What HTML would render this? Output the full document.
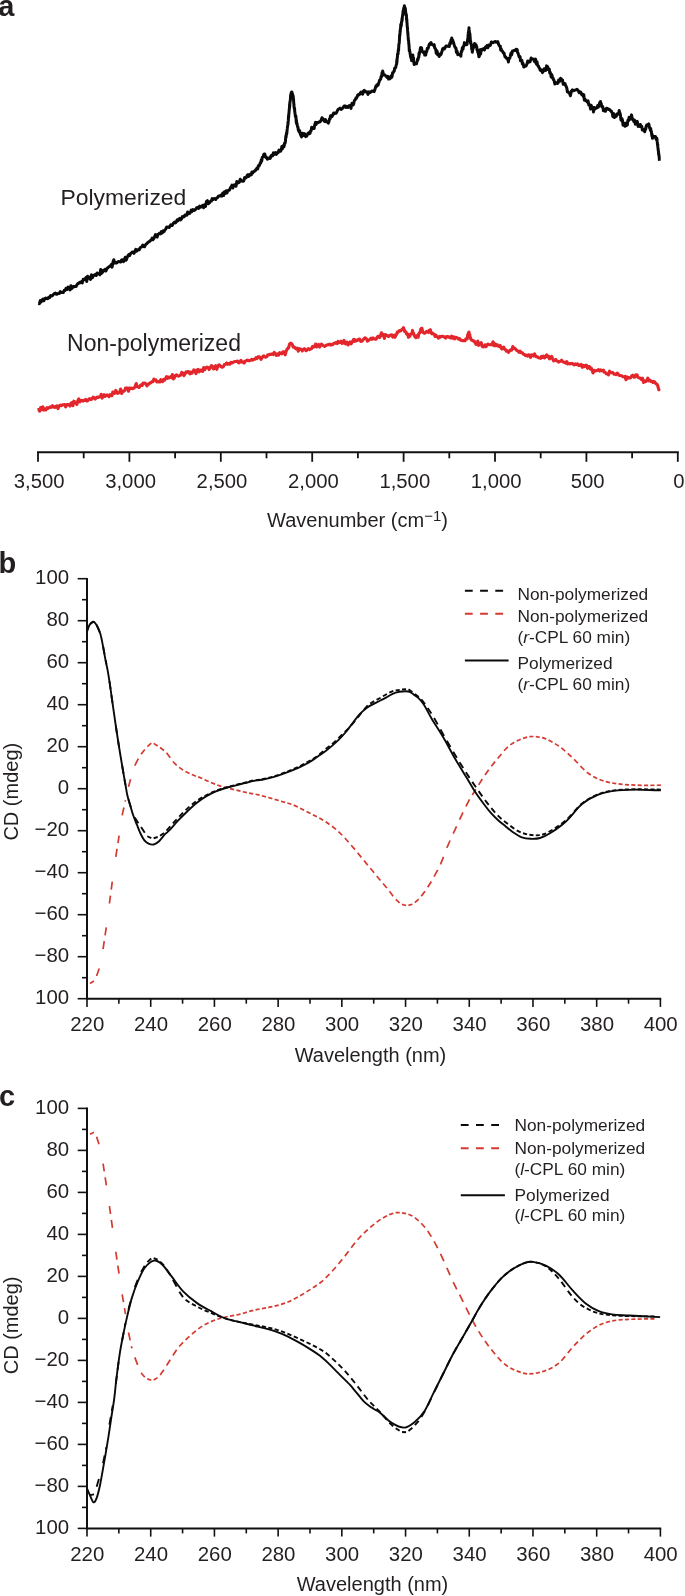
<!DOCTYPE html><html><head><meta charset="utf-8"><style>html,body{margin:0;padding:0;background:#fff;}body{width:685px;height:1596px;overflow:hidden;font-family:"Liberation Sans",sans-serif;}svg{display:block;will-change:transform;}</style></head><body><svg width="685" height="1596" viewBox="0 0 685 1596">
<rect width="100%" height="100%" fill="#ffffff"/>
<g font-family="&quot;Liberation Sans&quot;, sans-serif" fill="#231f20">
<text x="-1.80" y="15.70" font-size="29.00" text-anchor="start" font-weight="bold" >a</text>
<text x="-1.50" y="573.40" font-size="29.00" text-anchor="start" font-weight="bold" >b</text>
<text x="-0.90" y="1105.60" font-size="29.00" text-anchor="start" font-weight="bold" >c</text>
<path d="M37.00,452.30 H678.80" stroke="#111" stroke-width="2" fill="none"/>
<path d="M38.00,452.30 V461.80" stroke="#111" stroke-width="1.8" fill="none"/>
<text x="39.20" y="488.20" font-size="20.30" text-anchor="middle" font-weight="normal" >3,500</text>
<path d="M83.70,452.30 V458.30" stroke="#111" stroke-width="1.8" fill="none"/>
<path d="M129.40,452.30 V461.80" stroke="#111" stroke-width="1.8" fill="none"/>
<text x="130.60" y="488.20" font-size="20.30" text-anchor="middle" font-weight="normal" >3,000</text>
<path d="M175.10,452.30 V458.30" stroke="#111" stroke-width="1.8" fill="none"/>
<path d="M220.80,452.30 V461.80" stroke="#111" stroke-width="1.8" fill="none"/>
<text x="222.00" y="488.20" font-size="20.30" text-anchor="middle" font-weight="normal" >2,500</text>
<path d="M266.50,452.30 V458.30" stroke="#111" stroke-width="1.8" fill="none"/>
<path d="M312.20,452.30 V461.80" stroke="#111" stroke-width="1.8" fill="none"/>
<text x="313.40" y="488.20" font-size="20.30" text-anchor="middle" font-weight="normal" >2,000</text>
<path d="M357.90,452.30 V458.30" stroke="#111" stroke-width="1.8" fill="none"/>
<path d="M403.60,452.30 V461.80" stroke="#111" stroke-width="1.8" fill="none"/>
<text x="404.80" y="488.20" font-size="20.30" text-anchor="middle" font-weight="normal" >1,500</text>
<path d="M449.30,452.30 V458.30" stroke="#111" stroke-width="1.8" fill="none"/>
<path d="M495.00,452.30 V461.80" stroke="#111" stroke-width="1.8" fill="none"/>
<text x="496.20" y="488.20" font-size="20.30" text-anchor="middle" font-weight="normal" >1,000</text>
<path d="M540.70,452.30 V458.30" stroke="#111" stroke-width="1.8" fill="none"/>
<path d="M586.40,452.30 V461.80" stroke="#111" stroke-width="1.8" fill="none"/>
<text x="587.60" y="488.20" font-size="20.30" text-anchor="middle" font-weight="normal" >500</text>
<path d="M632.10,452.30 V458.30" stroke="#111" stroke-width="1.8" fill="none"/>
<path d="M677.80,452.30 V461.80" stroke="#111" stroke-width="1.8" fill="none"/>
<text x="679.00" y="488.20" font-size="20.30" text-anchor="middle" font-weight="normal" >0</text>
<text x="357.50" y="526.50" font-size="20.00" text-anchor="middle" font-weight="normal" >Wavenumber (cm<tspan font-size="15" dy="-6">−1</tspan><tspan dy="6">)</tspan></text>
<text x="60.40" y="204.50" font-size="22.90" text-anchor="start" font-weight="normal" >Polymerized</text>
<text x="67.10" y="350.90" font-size="23.00" text-anchor="start" font-weight="normal" >Non-polymerized</text>
<path d="M38.50,303.20 L39.38,303.74 L40.27,300.61 L41.15,301.99 L42.03,299.88 L42.92,299.15 L43.80,300.79 L44.77,298.58 L45.73,298.08 L46.70,298.64 L47.67,298.78 L48.63,297.22 L49.60,297.61 L50.57,295.61 L51.53,295.99 L52.50,295.62 L53.48,294.25 L54.46,293.66 L55.43,293.14 L56.41,294.28 L57.39,293.97 L58.37,293.41 L59.34,293.45 L60.32,291.52 L61.30,292.51 L62.27,292.43 L63.23,292.56 L64.20,290.37 L65.17,290.43 L66.13,288.22 L67.10,289.45 L68.07,287.15 L69.03,287.57 L70.00,289.91 L70.88,285.79 L71.76,288.60 L72.64,287.59 L73.52,286.40 L74.40,286.76 L75.28,286.34 L76.16,286.42 L77.04,284.53 L77.92,283.64 L78.80,283.13 L79.68,282.22 L80.56,282.77 L81.44,281.47 L82.32,283.02 L83.20,279.29 L84.08,279.66 L84.96,279.32 L85.84,277.58 L86.72,281.48 L87.60,276.25 L88.57,278.12 L89.53,277.39 L90.50,279.32 L91.47,274.85 L92.43,277.75 L93.40,275.30 L94.37,275.46 L95.33,274.43 L96.30,275.40 L97.18,272.96 L98.06,273.63 L98.94,273.62 L99.82,274.76 L100.70,269.60 L101.58,273.44 L102.46,272.31 L103.34,270.25 L104.22,270.63 L105.10,269.29 L105.97,271.00 L106.84,268.81 L107.71,267.73 L108.58,267.11 L109.45,266.53 L110.32,265.95 L111.19,264.56 L112.06,267.18 L112.93,262.21 L113.80,259.73 L114.78,263.16 L115.76,262.74 L116.73,262.91 L117.71,261.88 L118.69,261.54 L119.67,261.67 L120.64,261.97 L121.62,260.01 L122.60,259.69 L123.48,261.62 L124.36,259.46 L125.24,257.19 L126.12,260.22 L127.00,257.90 L127.88,255.79 L128.76,254.54 L129.64,255.55 L130.52,253.69 L131.40,252.84 L132.27,251.96 L133.14,252.22 L134.01,253.39 L134.88,251.08 L135.75,249.36 L136.62,251.08 L137.49,249.80 L138.36,250.05 L139.23,249.83 L140.10,247.71 L140.98,247.21 L141.86,246.79 L142.74,245.06 L143.62,246.52 L144.50,246.76 L145.38,244.91 L146.26,243.93 L147.14,243.37 L148.02,242.27 L148.90,241.72 L149.72,241.48 L150.55,240.32 L151.38,240.09 L152.20,238.16 L153.03,239.61 L153.85,238.60 L154.68,236.61 L155.50,234.67 L156.33,236.52 L157.15,237.06 L157.98,234.37 L158.80,233.97 L159.67,233.22 L160.54,233.92 L161.41,231.54 L162.28,232.98 L163.15,230.92 L164.02,231.62 L164.89,229.99 L165.76,229.05 L166.63,227.02 L167.50,227.24 L168.30,227.10 L169.10,227.51 L169.90,226.44 L170.70,224.80 L171.50,225.41 L172.30,225.43 L173.10,223.57 L173.90,222.64 L174.70,222.09 L175.50,222.80 L176.30,221.89 L177.17,219.72 L178.04,220.59 L178.91,219.09 L179.78,218.23 L180.65,219.86 L181.52,218.84 L182.39,216.58 L183.26,216.91 L184.13,216.81 L185.00,215.00 L185.88,214.99 L186.76,215.27 L187.64,211.99 L188.52,213.74 L189.40,213.61 L190.28,212.77 L191.16,210.16 L192.04,211.41 L192.92,209.53 L193.80,210.53 L194.78,210.09 L195.76,209.18 L196.73,207.62 L197.71,207.34 L198.69,208.45 L199.67,206.04 L200.64,207.10 L201.62,206.64 L202.60,205.29 L203.57,207.75 L204.53,204.70 L205.50,206.49 L206.47,201.43 L207.43,200.69 L208.40,203.75 L209.37,202.88 L210.33,201.35 L211.30,201.14 L212.18,198.58 L213.06,199.45 L213.94,198.47 L214.82,198.84 L215.70,199.52 L216.58,198.08 L217.46,197.90 L218.34,196.19 L219.22,195.95 L220.10,196.02 L220.97,194.98 L221.84,196.07 L222.71,193.11 L223.58,195.54 L224.45,191.77 L225.32,193.41 L226.19,190.78 L227.06,192.83 L227.93,190.56 L228.80,190.24 L229.60,189.98 L230.40,187.83 L231.20,186.74 L232.00,185.03 L232.80,187.96 L233.60,185.22 L234.40,184.69 L235.20,184.68 L236.00,186.26 L236.80,181.54 L237.60,183.07 L238.48,181.83 L239.36,182.33 L240.24,179.23 L241.12,180.24 L242.00,181.07 L242.88,181.33 L243.76,180.85 L244.64,177.62 L245.52,178.09 L246.40,177.38 L247.19,175.35 L247.98,174.64 L248.77,176.42 L249.56,175.22 L250.35,174.16 L251.15,175.02 L251.94,171.94 L252.73,172.99 L253.52,171.78 L254.31,171.07 L255.10,171.04 L255.74,169.79 L256.38,168.99 L257.02,168.09 L257.66,169.03 L258.30,165.66 L258.97,166.18 L259.63,164.80 L260.30,162.82 L260.77,162.93 L261.25,159.96 L261.73,161.03 L262.20,157.71 L262.54,157.00 L262.88,156.84 L263.22,156.34 L263.56,155.36 L263.90,154.28 L264.36,153.99 L264.82,154.09 L265.28,156.66 L265.74,157.31 L266.20,156.85 L267.30,159.20 L268.40,158.59 L269.50,157.55 L270.28,158.29 L271.06,155.54 L271.84,155.23 L272.62,155.84 L273.40,152.89 L274.38,154.32 L275.35,152.46 L276.32,154.44 L277.30,152.50 L278.10,152.72 L278.90,150.09 L279.70,150.58 L280.50,151.22 L281.30,149.90 L281.85,146.49 L282.40,148.65 L282.95,147.73 L283.50,145.45 L284.05,146.54 L284.60,142.93 L284.81,142.98 L285.02,143.28 L285.23,142.47 L285.44,141.42 L285.66,137.79 L285.87,136.01 L286.08,137.37 L286.29,134.35 L286.50,134.76 L286.63,132.44 L286.76,133.97 L286.89,132.63 L287.02,131.31 L287.15,129.67 L287.28,128.65 L287.41,127.22 L287.54,126.92 L287.67,125.72 L287.80,124.91 L287.91,122.88 L288.01,124.40 L288.12,121.57 L288.23,121.75 L288.33,120.63 L288.44,117.15 L288.55,115.22 L288.65,117.41 L288.76,114.55 L288.87,114.02 L288.97,112.60 L289.08,111.98 L289.19,109.48 L289.29,109.63 L289.40,108.19 L289.50,107.67 L289.60,104.10 L289.70,106.56 L289.80,105.00 L289.90,101.72 L290.00,101.80 L290.10,101.63 L290.20,101.27 L290.30,99.56 L290.40,100.07 L290.50,97.56 L290.60,95.42 L290.70,94.76 L290.98,95.17 L291.25,92.53 L291.52,92.98 L291.80,92.02 L292.02,92.53 L292.23,93.99 L292.45,93.66 L292.67,94.82 L292.88,95.17 L293.10,96.13 L293.22,96.16 L293.34,98.35 L293.45,98.87 L293.57,99.56 L293.69,102.37 L293.81,103.79 L293.93,104.00 L294.05,106.96 L294.16,107.57 L294.28,108.77 L294.40,108.04 L294.55,108.07 L294.71,111.33 L294.86,112.06 L295.02,113.53 L295.17,114.20 L295.32,116.13 L295.48,115.44 L295.63,117.50 L295.78,116.78 L295.94,116.24 L296.09,119.30 L296.25,122.44 L296.40,119.96 L296.65,123.91 L296.90,123.03 L297.15,124.32 L297.40,125.80 L297.65,126.97 L297.90,126.65 L298.15,128.85 L298.40,130.19 L299.04,131.54 L299.68,130.71 L300.32,134.17 L300.96,135.48 L301.60,136.96 L302.60,133.30 L303.60,135.44 L304.60,133.68 L305.60,136.62 L306.70,136.18 L307.80,133.67 L308.90,132.56 L309.46,133.66 L310.01,133.31 L310.57,130.90 L311.13,130.64 L311.69,127.31 L312.24,128.46 L312.80,128.56 L313.47,127.68 L314.13,128.37 L314.80,124.49 L315.47,122.39 L316.13,124.48 L316.80,122.45 L317.58,122.76 L318.36,122.57 L319.14,121.78 L319.92,122.05 L320.70,121.29 L322.00,117.77 L323.30,119.33 L324.60,121.40 L325.43,119.55 L326.25,121.86 L327.07,121.54 L327.90,121.94 L328.42,123.10 L328.94,121.47 L329.46,119.01 L329.98,119.24 L330.50,115.76 L331.27,115.64 L332.03,116.66 L332.80,114.94 L333.57,112.96 L334.33,113.86 L335.10,112.96 L335.92,113.31 L336.73,112.25 L337.55,110.20 L338.37,109.27 L339.18,108.95 L340.00,108.15 L340.98,109.36 L341.95,108.85 L342.92,107.94 L343.90,106.22 L344.90,105.86 L345.90,107.44 L346.90,106.39 L347.90,107.36 L349.20,105.57 L350.50,107.23 L351.02,108.36 L351.54,104.73 L352.06,103.30 L352.58,103.84 L353.10,104.93 L353.67,103.85 L354.24,101.02 L354.81,100.05 L355.39,99.61 L355.96,97.86 L356.53,98.08 L357.10,96.87 L357.88,94.80 L358.66,95.00 L359.44,94.58 L360.22,93.13 L361.00,92.07 L361.82,93.65 L362.65,94.09 L363.48,91.03 L364.30,90.23 L365.17,91.89 L366.03,91.71 L366.90,91.74 L368.00,94.36 L369.10,91.92 L370.20,92.50 L371.00,91.91 L371.80,91.01 L372.60,91.06 L373.40,91.29 L374.20,91.59 L374.76,89.89 L375.31,88.35 L375.87,86.10 L376.43,86.56 L376.99,84.75 L377.54,84.84 L378.10,85.18 L378.62,83.26 L379.14,81.75 L379.66,80.09 L380.18,79.84 L380.70,78.92 L381.03,76.70 L381.37,76.08 L381.70,76.52 L382.03,72.64 L382.37,72.90 L382.70,71.02 L383.57,74.87 L384.43,74.70 L385.30,75.47 L385.96,76.12 L386.62,76.78 L387.28,77.56 L387.94,76.28 L388.60,79.08 L389.90,78.80 L391.20,75.93 L391.65,77.42 L392.10,76.27 L392.55,72.88 L393.00,73.05 L393.45,72.25 L393.90,71.02 L394.27,71.00 L394.64,68.14 L395.01,68.27 L395.39,67.73 L395.76,67.25 L396.13,65.48 L396.50,64.13 L396.64,64.12 L396.79,60.14 L396.93,62.32 L397.07,59.92 L397.21,57.85 L397.36,57.71 L397.50,55.13 L397.64,53.87 L397.79,54.72 L397.93,53.19 L398.07,53.81 L398.21,51.00 L398.36,49.51 L398.50,48.85 L398.59,50.79 L398.68,47.93 L398.77,46.23 L398.86,44.81 L398.95,43.69 L399.04,43.72 L399.13,43.37 L399.22,43.17 L399.31,42.16 L399.40,40.20 L399.50,38.17 L399.59,36.95 L399.68,34.36 L399.77,34.78 L399.86,35.36 L399.95,33.53 L400.04,33.30 L400.13,30.42 L400.22,31.89 L400.31,30.22 L400.40,28.95 L400.57,28.35 L400.75,24.46 L400.93,25.32 L401.10,23.96 L401.27,25.96 L401.45,22.77 L401.62,21.43 L401.80,21.94 L401.97,18.79 L402.15,20.47 L402.32,17.09 L402.49,16.75 L402.67,14.76 L402.84,15.61 L403.01,11.28 L403.19,13.39 L403.36,10.68 L403.53,10.59 L403.71,8.22 L403.88,8.69 L404.05,7.60 L404.23,7.00 L404.40,5.65 L404.60,7.04 L404.80,8.49 L405.00,8.02 L405.20,8.20 L405.40,9.14 L405.60,12.35 L405.80,12.24 L406.00,14.86 L406.20,14.80 L406.40,14.69 L406.49,17.84 L406.57,20.03 L406.66,18.74 L406.75,18.95 L406.83,20.10 L406.92,23.06 L407.01,22.48 L407.09,23.73 L407.18,25.97 L407.27,26.28 L407.35,27.44 L407.44,27.76 L407.53,28.70 L407.61,30.63 L407.70,31.67 L407.79,33.19 L407.89,33.02 L407.98,34.99 L408.07,36.17 L408.16,36.77 L408.26,38.34 L408.35,39.86 L408.44,40.00 L408.54,40.91 L408.63,40.79 L408.72,43.25 L408.81,43.83 L408.91,44.62 L409.00,45.09 L409.14,47.65 L409.29,50.86 L409.43,49.54 L409.58,50.18 L409.72,51.59 L409.87,51.48 L410.01,53.26 L410.16,53.45 L410.30,54.49 L410.56,56.50 L410.82,57.53 L411.08,58.20 L411.34,58.49 L411.60,60.69 L411.78,58.02 L411.96,58.89 L412.14,56.48 L412.32,55.68 L412.50,55.36 L412.67,56.10 L412.84,55.06 L413.01,57.20 L413.18,58.86 L413.35,58.25 L413.52,57.79 L413.69,61.35 L413.86,62.37 L414.03,63.88 L414.20,64.49 L415.20,63.89 L416.20,63.36 L416.57,63.67 L416.94,61.75 L417.31,60.87 L417.69,58.90 L418.06,59.62 L418.43,57.24 L418.80,57.31 L419.00,53.19 L419.20,54.79 L419.40,53.42 L419.60,52.03 L419.80,52.97 L420.00,51.01 L420.20,49.41 L420.40,48.00 L420.60,49.65 L420.80,47.42 L421.20,48.38 L421.60,47.88 L422.00,51.21 L422.40,51.45 L422.80,51.60 L423.45,52.61 L424.10,51.76 L424.75,55.09 L425.40,54.00 L425.71,55.17 L426.03,52.80 L426.34,51.65 L426.66,51.78 L426.97,50.65 L427.29,48.22 L427.60,48.42 L428.15,48.28 L428.70,46.46 L429.25,44.37 L429.80,44.70 L430.35,43.03 L430.90,42.57 L431.72,44.08 L432.55,44.79 L433.38,45.45 L434.20,44.69 L434.61,47.80 L435.02,48.11 L435.44,48.79 L435.85,50.32 L436.26,53.17 L436.68,50.56 L437.09,51.13 L437.50,54.64 L438.37,53.57 L439.23,56.49 L440.10,54.62 L440.47,54.24 L440.84,54.76 L441.21,53.91 L441.59,52.47 L441.96,51.56 L442.33,49.99 L442.70,48.72 L443.52,48.15 L444.35,48.94 L445.18,47.50 L446.00,45.92 L447.10,46.01 L448.20,46.34 L449.30,46.50 L449.63,43.97 L449.97,42.95 L450.30,42.31 L450.63,43.72 L450.97,40.05 L451.30,40.09 L451.77,38.05 L452.24,41.68 L452.71,40.25 L453.19,41.63 L453.66,43.15 L454.13,44.72 L454.60,46.10 L455.06,47.23 L455.51,48.00 L455.97,48.21 L456.43,52.45 L456.89,50.97 L457.34,52.20 L457.80,54.61 L458.70,54.36 L459.60,54.83 L460.50,55.45 L460.85,56.12 L461.21,51.88 L461.56,51.00 L461.92,51.19 L462.27,47.79 L462.63,48.14 L462.98,49.20 L463.34,46.45 L463.69,46.12 L464.05,45.67 L464.40,42.63 L465.70,44.85 L467.00,44.51 L467.12,43.00 L467.24,42.89 L467.35,42.12 L467.47,40.74 L467.59,39.45 L467.71,40.21 L467.82,39.42 L467.94,37.76 L468.06,36.04 L468.18,33.99 L468.29,33.24 L468.41,31.92 L468.53,32.35 L468.65,32.11 L468.76,31.11 L468.88,29.08 L469.00,27.68 L469.12,29.38 L469.24,30.40 L469.35,31.99 L469.47,34.03 L469.59,32.76 L469.71,36.87 L469.83,33.38 L469.95,34.81 L470.06,36.19 L470.18,37.80 L470.30,39.75 L470.50,43.23 L470.70,41.20 L470.90,44.14 L471.10,43.53 L471.30,45.07 L471.50,44.77 L471.70,49.33 L471.90,47.80 L472.10,48.15 L472.30,52.28 L472.77,49.05 L473.24,48.37 L473.71,46.81 L474.19,45.12 L474.66,43.53 L475.13,43.95 L475.60,44.96 L475.88,44.70 L476.15,45.09 L476.43,47.48 L476.70,46.35 L476.98,49.91 L477.25,49.43 L477.52,49.59 L477.80,52.27 L478.07,53.14 L478.35,53.24 L478.62,54.89 L478.90,56.77 L479.33,56.25 L479.77,52.81 L480.20,49.88 L480.63,54.00 L481.07,50.50 L481.50,49.35 L482.48,49.94 L483.45,48.68 L484.42,49.96 L485.40,47.14 L486.20,47.50 L487.00,45.57 L487.80,47.82 L488.60,45.11 L489.40,45.80 L490.38,45.44 L491.35,41.95 L492.32,42.33 L493.30,42.68 L494.30,41.80 L495.30,41.45 L496.30,42.37 L497.30,42.30 L497.79,41.64 L498.27,43.13 L498.76,44.97 L499.25,45.48 L499.74,46.39 L500.23,46.00 L500.71,50.13 L501.20,48.95 L501.76,50.42 L502.31,51.02 L502.87,52.06 L503.43,53.08 L503.99,52.93 L504.54,55.18 L505.10,57.01 L505.76,57.00 L506.42,58.21 L507.08,58.81 L507.74,59.17 L508.40,61.98 L508.87,58.26 L509.34,58.42 L509.81,58.12 L510.29,56.32 L510.76,53.85 L511.23,52.82 L511.70,54.71 L512.43,50.92 L513.17,50.94 L513.90,50.49 L515.00,50.63 L516.10,49.23 L517.20,49.73 L517.61,52.67 L518.03,52.93 L518.44,54.48 L518.85,55.85 L519.26,56.92 L519.67,56.27 L520.09,56.88 L520.50,60.73 L520.97,59.96 L521.44,60.31 L521.91,60.35 L522.39,64.06 L522.86,63.04 L523.33,64.22 L523.80,66.98 L524.90,66.20 L526.00,66.05 L527.10,63.62 L527.68,61.04 L528.25,62.27 L528.83,62.20 L529.40,60.98 L529.98,61.85 L530.55,60.44 L531.12,58.08 L531.70,59.02 L532.68,58.89 L533.65,59.17 L534.62,61.58 L535.60,59.17 L536.07,63.16 L536.54,64.25 L537.01,61.84 L537.49,64.91 L537.96,65.96 L538.43,65.93 L538.90,67.57 L539.55,68.31 L540.20,70.27 L540.85,70.59 L541.50,69.86 L542.40,72.64 L543.30,71.45 L544.20,68.69 L545.00,69.88 L545.80,70.47 L546.60,65.87 L547.40,66.45 L547.87,67.27 L548.34,69.40 L548.81,69.40 L549.29,69.14 L549.76,73.00 L550.23,72.20 L550.70,74.30 L551.17,76.95 L551.64,74.57 L552.11,75.88 L552.59,78.27 L553.06,78.10 L553.53,79.73 L554.00,80.10 L554.83,84.01 L555.65,82.45 L556.47,82.95 L557.30,83.54 L557.95,83.06 L558.60,80.08 L559.25,80.80 L559.90,81.15 L560.55,78.25 L561.20,78.85 L561.86,79.62 L562.52,80.08 L563.18,84.31 L563.84,83.27 L564.50,83.77 L564.97,83.46 L565.44,85.35 L565.91,85.86 L566.39,87.02 L566.86,88.29 L567.33,91.73 L567.80,91.37 L568.67,92.68 L569.53,93.21 L570.40,95.71 L571.40,91.20 L572.40,89.84 L573.40,90.81 L574.40,90.19 L575.70,89.94 L577.00,89.22 L578.30,90.66 L579.12,92.63 L579.95,91.80 L580.77,92.13 L581.60,94.52 L582.15,93.85 L582.70,94.78 L583.25,96.50 L583.80,94.63 L584.35,100.19 L584.90,98.99 L585.68,100.47 L586.46,101.05 L587.24,101.95 L588.02,100.83 L588.80,105.05 L589.39,104.59 L589.97,105.13 L590.56,109.12 L591.15,105.11 L591.74,108.17 L592.33,108.10 L592.91,107.40 L593.50,112.04 L594.38,107.59 L595.25,108.86 L596.12,108.01 L597.00,107.71 L597.70,105.53 L598.40,107.13 L599.10,104.96 L599.80,102.34 L600.50,101.47 L600.86,104.06 L601.23,103.43 L601.59,106.13 L601.95,106.97 L602.31,106.91 L602.67,106.38 L603.04,108.02 L603.40,110.80 L604.42,109.26 L605.45,111.30 L606.48,108.20 L607.50,108.53 L608.38,109.43 L609.25,109.36 L610.12,110.17 L611.00,111.52 L611.44,111.20 L611.88,112.68 L612.31,112.86 L612.75,116.41 L613.19,115.34 L613.62,117.03 L614.06,113.78 L614.50,117.47 L615.30,116.00 L616.10,116.52 L616.90,115.22 L617.36,113.61 L617.82,113.52 L618.28,113.78 L618.74,113.12 L619.20,110.42 L619.49,113.20 L619.78,112.38 L620.06,114.76 L620.35,114.16 L620.64,117.28 L620.92,119.71 L621.21,117.86 L621.50,120.55 L622.00,118.61 L622.50,120.51 L623.00,125.14 L623.50,123.13 L624.00,124.76 L624.50,123.41 L625.00,126.19 L625.58,124.38 L626.17,125.60 L626.75,122.72 L627.33,125.15 L627.92,120.17 L628.50,120.77 L629.10,117.38 L629.70,118.32 L630.30,119.28 L630.90,117.01 L631.50,114.88 L632.08,117.89 L632.66,119.43 L633.24,119.91 L633.82,121.56 L634.40,119.94 L635.34,124.21 L636.28,123.69 L637.22,121.29 L638.16,126.37 L639.10,124.49 L639.75,126.38 L640.40,124.45 L641.05,126.75 L641.70,126.24 L642.35,129.99 L643.00,129.62 L643.65,129.68 L644.30,131.09 L644.76,131.83 L645.21,128.82 L645.67,129.40 L646.12,126.56 L646.58,125.12 L647.03,125.50 L647.49,124.81 L647.94,124.41 L648.40,124.34 L648.73,123.93 L649.06,125.07 L649.39,127.40 L649.71,128.12 L650.04,128.67 L650.37,130.08 L650.70,128.49 L651.00,131.37 L651.30,131.28 L651.60,133.71 L651.90,136.16 L652.20,134.39 L652.50,138.31 L653.95,136.38 L655.40,136.47 L655.76,137.13 L656.12,139.36 L656.48,138.79 L656.84,138.18 L657.20,141.76 L657.32,142.25 L657.44,144.13 L657.56,145.11 L657.68,144.13 L657.81,146.70 L657.93,147.63 L658.05,148.43 L658.17,149.63 L658.29,150.89 L658.41,150.95 L658.53,152.41 L658.65,154.67 L658.77,153.44 L658.89,155.53 L659.02,155.52 L659.14,156.48 L659.26,158.21 L659.38,159.88 L659.50,160.70" stroke="#0a0a0a" stroke-width="3.0" fill="none" stroke-linejoin="round"/>
<path d="M37.60,409.90 L38.63,409.55 L39.67,411.17 L40.70,407.53 L41.73,409.51 L42.77,406.80 L43.80,410.11 L44.89,408.90 L45.97,409.94 L47.06,407.67 L48.15,408.44 L49.24,407.46 L50.33,406.74 L51.41,407.48 L52.50,405.72 L53.60,406.52 L54.70,407.49 L55.80,406.60 L56.90,405.90 L58.00,408.57 L59.10,406.04 L60.20,405.14 L61.30,405.78 L62.39,404.80 L63.47,404.73 L64.56,404.54 L65.65,406.93 L66.74,404.50 L67.83,404.44 L68.91,404.77 L70.00,406.02 L70.98,403.30 L71.96,402.60 L72.93,405.76 L73.91,401.17 L74.89,402.12 L75.87,403.00 L76.84,404.52 L77.82,400.71 L78.80,398.83 L79.78,401.99 L80.76,400.46 L81.73,400.37 L82.71,401.07 L83.69,400.58 L84.67,400.42 L85.64,399.39 L86.62,401.05 L87.60,401.06 L88.69,399.22 L89.77,398.48 L90.86,399.57 L91.95,399.08 L93.04,397.19 L94.12,397.62 L95.21,399.07 L96.30,397.59 L97.28,397.08 L98.26,397.42 L99.23,396.90 L100.21,396.68 L101.19,394.30 L102.17,398.09 L103.14,396.13 L104.12,394.69 L105.10,396.48 L106.07,395.45 L107.03,394.84 L108.00,395.69 L108.97,396.73 L109.93,394.56 L110.90,395.41 L111.87,395.75 L112.83,391.97 L113.80,392.22 L114.78,393.42 L115.76,390.45 L116.73,391.81 L117.71,393.29 L118.69,392.78 L119.67,392.04 L120.64,389.08 L121.62,393.52 L122.60,391.31 L123.58,391.29 L124.56,390.73 L125.53,388.05 L126.51,388.10 L127.49,388.08 L128.47,391.28 L129.44,388.00 L130.42,388.39 L131.40,388.12 L132.37,388.74 L133.33,388.37 L134.30,387.83 L135.27,385.86 L136.23,383.50 L137.20,386.85 L138.17,386.67 L139.13,387.44 L140.10,385.69 L141.09,384.81 L142.08,385.61 L143.07,383.13 L144.06,383.37 L145.05,383.09 L146.04,384.20 L147.03,385.86 L148.02,384.08 L149.01,384.18 L150.00,382.86 L150.98,382.68 L151.96,381.66 L152.93,381.62 L153.91,379.04 L154.89,380.17 L155.87,379.85 L156.84,381.97 L157.82,381.55 L158.80,381.86 L159.77,382.05 L160.73,379.73 L161.70,380.96 L162.67,381.68 L163.63,379.26 L164.60,380.20 L165.57,378.55 L166.53,376.69 L167.50,378.33 L168.48,377.04 L169.46,377.81 L170.43,376.92 L171.41,377.53 L172.39,374.57 L173.37,378.96 L174.34,377.91 L175.32,375.77 L176.30,374.90 L177.39,375.64 L178.48,376.12 L179.56,375.58 L180.65,375.29 L181.74,372.42 L182.82,373.08 L183.91,375.54 L185.00,374.06 L185.98,371.87 L186.96,372.33 L187.93,371.44 L188.91,371.65 L189.89,373.82 L190.87,372.02 L191.84,373.26 L192.82,371.96 L193.80,369.83 L194.90,370.57 L196.00,373.63 L197.10,370.01 L198.20,369.48 L199.30,371.82 L200.40,370.33 L201.50,370.01 L202.60,371.44 L203.69,367.57 L204.78,369.74 L205.86,367.83 L206.95,367.18 L208.04,367.58 L209.12,369.52 L210.21,367.80 L211.30,365.64 L212.40,366.23 L213.50,368.96 L214.60,368.17 L215.70,365.57 L216.80,369.30 L217.90,365.94 L219.00,364.78 L220.10,365.75 L221.19,366.74 L222.28,367.29 L223.36,366.42 L224.45,364.57 L225.54,364.21 L226.62,362.99 L227.71,364.33 L228.80,363.53 L229.90,364.25 L231.00,362.33 L232.10,362.94 L233.20,362.31 L234.30,361.72 L235.40,361.52 L236.50,361.48 L237.60,361.07 L238.70,362.86 L239.80,362.16 L240.90,360.39 L242.00,362.28 L243.10,361.85 L244.20,362.99 L245.30,360.96 L246.40,360.76 L247.49,359.96 L248.57,360.61 L249.66,360.77 L250.75,360.15 L251.84,359.40 L252.93,360.06 L254.01,359.27 L255.10,359.18 L256.08,357.53 L257.06,358.49 L258.04,356.82 L259.02,356.67 L260.00,357.48 L260.98,359.38 L261.96,357.84 L262.93,356.44 L263.91,355.94 L264.89,356.97 L265.87,357.12 L266.84,356.65 L267.82,354.78 L268.80,354.91 L269.89,354.37 L270.98,354.45 L272.06,353.85 L273.15,354.57 L274.24,352.47 L275.32,353.58 L276.41,355.44 L277.50,353.96 L278.58,355.19 L279.67,352.71 L280.75,353.33 L281.83,353.78 L282.92,351.75 L284.00,351.70 L285.15,354.78 L286.30,350.73 L286.74,349.79 L287.18,349.03 L287.61,348.80 L288.05,347.82 L288.49,348.04 L288.93,346.92 L289.36,344.66 L289.80,343.80 L290.68,343.13 L291.55,343.57 L292.43,344.94 L293.30,347.12 L294.30,346.94 L295.30,348.20 L296.30,348.86 L297.30,348.11 L298.30,351.16 L299.30,348.71 L300.30,349.10 L301.30,349.26 L302.30,350.96 L303.30,349.47 L304.30,348.74 L305.30,350.00 L306.30,350.73 L307.30,349.27 L308.36,348.68 L309.42,349.74 L310.48,349.19 L311.54,348.70 L312.60,346.34 L313.60,347.13 L314.60,346.84 L315.60,344.02 L316.60,347.01 L317.60,345.38 L318.60,344.50 L319.60,347.05 L320.60,344.86 L321.60,344.09 L322.60,345.03 L323.60,345.93 L324.60,346.41 L325.60,345.64 L326.60,344.93 L327.60,344.92 L328.60,344.58 L329.60,344.12 L330.60,345.08 L331.60,344.35 L332.60,344.76 L333.60,343.57 L334.48,343.00 L335.35,343.24 L336.23,342.53 L337.10,343.69 L338.10,341.44 L339.10,342.75 L340.10,342.53 L341.10,341.16 L342.10,343.50 L343.10,342.93 L344.10,340.44 L345.10,343.55 L346.10,344.00 L347.10,342.12 L348.10,344.99 L349.10,343.33 L350.10,341.93 L351.10,343.93 L351.98,342.36 L352.87,340.73 L353.75,339.29 L354.63,341.44 L355.52,339.81 L356.40,340.82 L357.49,340.38 L358.57,339.22 L359.66,339.05 L360.75,341.48 L361.84,341.26 L362.93,340.04 L364.01,338.65 L365.10,337.80 L366.33,338.69 L367.55,341.22 L368.77,340.09 L370.00,339.48 L371.02,338.12 L372.03,339.39 L373.05,337.91 L374.07,338.61 L375.08,339.13 L376.10,339.20 L376.99,337.54 L377.87,336.39 L378.76,336.41 L379.64,337.56 L380.53,335.35 L381.41,332.75 L382.30,335.44 L383.34,334.42 L384.38,338.48 L385.42,334.49 L386.46,335.35 L387.50,335.57 L388.56,336.58 L389.62,335.77 L390.68,335.03 L391.74,334.79 L392.80,337.06 L393.54,335.87 L394.29,335.04 L395.03,337.30 L395.77,335.06 L396.51,334.64 L397.26,332.10 L398.00,332.24 L398.82,331.08 L399.63,330.50 L400.45,330.99 L401.27,330.24 L402.08,329.32 L402.90,328.57 L403.50,327.67 L404.10,329.33 L404.70,331.47 L405.30,331.51 L405.90,331.93 L406.55,334.07 L407.20,333.52 L407.85,334.67 L408.50,337.29 L409.20,335.02 L409.90,336.14 L410.60,334.24 L411.30,333.68 L412.00,333.16 L412.54,330.43 L413.08,333.69 L413.62,333.28 L414.16,335.14 L414.70,336.48 L415.87,337.59 L417.03,335.75 L418.20,337.23 L418.63,333.89 L419.06,333.48 L419.49,332.72 L419.91,332.74 L420.34,330.70 L420.77,329.14 L421.20,328.53 L421.98,328.31 L422.75,332.25 L423.52,332.66 L424.30,333.28 L425.32,332.76 L426.33,331.43 L427.35,331.30 L428.37,332.30 L429.38,330.17 L430.40,329.83 L431.17,333.16 L431.95,333.84 L432.73,333.13 L433.50,334.09 L434.27,334.41 L435.05,336.49 L435.83,335.11 L436.60,336.39 L437.60,336.97 L438.60,338.16 L439.60,336.41 L440.60,337.07 L441.60,336.40 L442.60,336.34 L443.60,336.47 L444.60,337.29 L445.60,338.19 L446.60,336.43 L447.60,336.53 L448.60,336.75 L449.60,337.59 L450.60,337.98 L451.60,336.06 L452.60,338.08 L453.60,336.82 L454.60,338.96 L455.60,337.35 L456.60,337.46 L457.60,338.11 L458.66,339.19 L459.72,338.52 L460.78,340.21 L461.84,340.50 L462.90,340.79 L463.97,340.55 L465.05,340.77 L466.12,338.54 L467.20,338.90 L467.46,337.87 L467.71,334.63 L467.97,336.33 L468.23,334.05 L468.49,333.11 L468.74,332.41 L469.00,332.01 L469.24,333.27 L469.49,334.43 L469.73,334.13 L469.97,336.67 L470.21,337.36 L470.46,337.47 L470.70,338.88 L471.59,340.29 L472.47,340.38 L473.36,341.17 L474.24,341.02 L475.13,342.66 L476.01,344.35 L476.90,342.90 L477.77,341.22 L478.63,345.47 L479.50,343.52 L480.37,343.21 L481.23,342.71 L482.10,346.37 L483.08,346.91 L484.06,346.60 L485.04,344.88 L486.02,346.69 L487.00,344.81 L488.00,344.12 L489.00,344.72 L490.00,344.75 L491.00,344.44 L492.00,344.70 L493.00,341.72 L494.00,345.73 L495.06,343.89 L496.12,345.76 L497.18,344.68 L498.24,346.26 L499.30,346.41 L500.18,345.41 L501.05,348.12 L501.93,348.95 L502.80,347.57 L503.68,347.04 L504.55,349.19 L505.43,349.52 L506.30,351.12 L507.39,350.77 L508.48,352.35 L509.56,351.08 L510.65,349.87 L511.74,350.12 L512.83,346.55 L513.91,348.52 L515.00,348.29 L516.00,349.68 L517.00,350.65 L518.00,351.04 L519.00,352.33 L520.00,351.04 L521.00,352.64 L522.00,352.66 L522.88,353.46 L523.75,354.45 L524.62,354.44 L525.50,355.63 L526.51,355.19 L527.53,356.18 L528.54,354.76 L529.56,355.05 L530.57,357.40 L531.59,355.06 L532.60,354.76 L533.60,355.81 L534.60,353.95 L535.60,356.27 L536.60,356.74 L537.60,356.83 L538.60,357.84 L539.60,358.06 L540.60,358.38 L541.60,356.24 L542.60,357.29 L543.60,356.09 L544.60,357.92 L545.60,356.58 L546.60,354.87 L547.60,356.92 L548.60,356.20 L549.60,358.88 L550.60,357.93 L551.60,356.40 L552.60,358.87 L553.60,360.92 L554.60,360.29 L555.60,359.36 L556.60,360.90 L557.60,360.95 L558.60,362.06 L559.60,361.56 L560.60,361.10 L561.60,360.21 L562.60,361.75 L563.60,362.15 L564.60,362.20 L565.60,363.02 L566.60,361.63 L567.60,363.93 L568.70,363.42 L569.80,363.92 L570.90,363.53 L572.00,363.42 L573.10,364.14 L574.20,364.83 L575.30,363.74 L576.40,364.56 L577.60,363.79 L578.80,365.52 L580.00,365.52 L581.10,364.36 L582.20,367.31 L583.30,365.33 L584.40,366.65 L585.50,365.40 L586.60,365.21 L587.53,368.38 L588.46,366.68 L589.39,366.50 L590.31,369.09 L591.24,368.19 L592.17,370.22 L593.10,373.00 L594.20,370.30 L595.30,370.86 L596.40,370.81 L597.50,370.20 L598.60,369.54 L599.70,371.05 L600.64,369.83 L601.59,370.82 L602.53,371.06 L603.47,370.06 L604.41,372.32 L605.36,372.55 L606.30,373.71 L607.38,373.82 L608.47,374.84 L609.55,371.13 L610.63,372.66 L611.72,372.82 L612.80,372.46 L613.90,374.22 L615.00,374.05 L616.10,374.65 L617.20,373.09 L618.30,374.19 L619.40,375.53 L620.50,375.50 L621.60,375.70 L622.70,376.62 L623.80,376.83 L624.90,376.36 L626.00,379.71 L627.10,376.90 L628.20,378.07 L629.30,377.75 L630.40,377.89 L631.50,375.94 L632.60,375.21 L633.68,377.09 L634.77,377.22 L635.85,374.68 L636.93,374.72 L638.02,377.29 L639.10,377.78 L640.20,378.24 L641.30,379.32 L642.40,378.15 L643.50,382.41 L644.60,380.85 L645.70,381.61 L646.76,380.64 L647.82,378.22 L648.88,380.88 L649.94,380.16 L651.00,381.38 L651.98,381.25 L652.95,382.58 L653.92,381.37 L654.90,382.40 L655.77,383.71 L656.63,383.78 L657.50,385.00 L658.17,387.27 L658.83,389.79 L659.50,388.80" stroke="#e3262b" stroke-width="3.1" fill="none" stroke-linejoin="round"/>
<path d="M87.00,577.90 V998.70 H661.20" stroke="#111" stroke-width="2" fill="none"/>
<path d="M87.00,578.70 H77.70" stroke="#111" stroke-width="1.6" fill="none"/>
<text x="69.10" y="584.40" font-size="20.40" text-anchor="end" font-weight="normal" >100</text>
<path d="M87.00,599.70 H82.00" stroke="#111" stroke-width="1.6" fill="none"/>
<path d="M87.00,620.70 H77.70" stroke="#111" stroke-width="1.6" fill="none"/>
<text x="69.10" y="626.40" font-size="20.40" text-anchor="end" font-weight="normal" >80</text>
<path d="M87.00,641.70 H82.00" stroke="#111" stroke-width="1.6" fill="none"/>
<path d="M87.00,662.70 H77.70" stroke="#111" stroke-width="1.6" fill="none"/>
<text x="69.10" y="668.40" font-size="20.40" text-anchor="end" font-weight="normal" >60</text>
<path d="M87.00,683.70 H82.00" stroke="#111" stroke-width="1.6" fill="none"/>
<path d="M87.00,704.70 H77.70" stroke="#111" stroke-width="1.6" fill="none"/>
<text x="69.10" y="710.40" font-size="20.40" text-anchor="end" font-weight="normal" >40</text>
<path d="M87.00,725.70 H82.00" stroke="#111" stroke-width="1.6" fill="none"/>
<path d="M87.00,746.70 H77.70" stroke="#111" stroke-width="1.6" fill="none"/>
<text x="69.10" y="752.40" font-size="20.40" text-anchor="end" font-weight="normal" >20</text>
<path d="M87.00,767.70 H82.00" stroke="#111" stroke-width="1.6" fill="none"/>
<path d="M87.00,788.70 H77.70" stroke="#111" stroke-width="1.6" fill="none"/>
<text x="69.10" y="794.40" font-size="20.40" text-anchor="end" font-weight="normal" >0</text>
<path d="M87.00,809.70 H82.00" stroke="#111" stroke-width="1.6" fill="none"/>
<path d="M87.00,830.70 H77.70" stroke="#111" stroke-width="1.6" fill="none"/>
<text x="69.10" y="836.40" font-size="20.40" text-anchor="end" font-weight="normal" >−20</text>
<path d="M87.00,851.70 H82.00" stroke="#111" stroke-width="1.6" fill="none"/>
<path d="M87.00,872.70 H77.70" stroke="#111" stroke-width="1.6" fill="none"/>
<text x="69.10" y="878.40" font-size="20.40" text-anchor="end" font-weight="normal" >−40</text>
<path d="M87.00,893.70 H82.00" stroke="#111" stroke-width="1.6" fill="none"/>
<path d="M87.00,914.70 H77.70" stroke="#111" stroke-width="1.6" fill="none"/>
<text x="69.10" y="920.40" font-size="20.40" text-anchor="end" font-weight="normal" >−60</text>
<path d="M87.00,935.70 H82.00" stroke="#111" stroke-width="1.6" fill="none"/>
<path d="M87.00,956.70 H77.70" stroke="#111" stroke-width="1.6" fill="none"/>
<text x="69.10" y="962.40" font-size="20.40" text-anchor="end" font-weight="normal" >−80</text>
<path d="M87.00,977.70 H82.00" stroke="#111" stroke-width="1.6" fill="none"/>
<path d="M87.00,998.70 H77.70" stroke="#111" stroke-width="1.6" fill="none"/>
<text x="69.10" y="1004.40" font-size="20.40" text-anchor="end" font-weight="normal" >100</text>
<path d="M87.00,998.70 V1006.90" stroke="#111" stroke-width="1.6" fill="none"/>
<text x="87.30" y="1031.40" font-size="20.40" text-anchor="middle" font-weight="normal" >220</text>
<path d="M118.86,998.70 V1003.70" stroke="#111" stroke-width="1.6" fill="none"/>
<path d="M150.71,998.70 V1006.90" stroke="#111" stroke-width="1.6" fill="none"/>
<text x="151.01" y="1031.40" font-size="20.40" text-anchor="middle" font-weight="normal" >240</text>
<path d="M182.57,998.70 V1003.70" stroke="#111" stroke-width="1.6" fill="none"/>
<path d="M214.42,998.70 V1006.90" stroke="#111" stroke-width="1.6" fill="none"/>
<text x="214.72" y="1031.40" font-size="20.40" text-anchor="middle" font-weight="normal" >260</text>
<path d="M246.28,998.70 V1003.70" stroke="#111" stroke-width="1.6" fill="none"/>
<path d="M278.13,998.70 V1006.90" stroke="#111" stroke-width="1.6" fill="none"/>
<text x="278.43" y="1031.40" font-size="20.40" text-anchor="middle" font-weight="normal" >280</text>
<path d="M309.99,998.70 V1003.70" stroke="#111" stroke-width="1.6" fill="none"/>
<path d="M341.84,998.70 V1006.90" stroke="#111" stroke-width="1.6" fill="none"/>
<text x="342.14" y="1031.40" font-size="20.40" text-anchor="middle" font-weight="normal" >300</text>
<path d="M373.70,998.70 V1003.70" stroke="#111" stroke-width="1.6" fill="none"/>
<path d="M405.56,998.70 V1006.90" stroke="#111" stroke-width="1.6" fill="none"/>
<text x="405.86" y="1031.40" font-size="20.40" text-anchor="middle" font-weight="normal" >320</text>
<path d="M437.41,998.70 V1003.70" stroke="#111" stroke-width="1.6" fill="none"/>
<path d="M469.27,998.70 V1006.90" stroke="#111" stroke-width="1.6" fill="none"/>
<text x="469.57" y="1031.40" font-size="20.40" text-anchor="middle" font-weight="normal" >340</text>
<path d="M501.12,998.70 V1003.70" stroke="#111" stroke-width="1.6" fill="none"/>
<path d="M532.98,998.70 V1006.90" stroke="#111" stroke-width="1.6" fill="none"/>
<text x="533.28" y="1031.40" font-size="20.40" text-anchor="middle" font-weight="normal" >360</text>
<path d="M564.83,998.70 V1003.70" stroke="#111" stroke-width="1.6" fill="none"/>
<path d="M596.69,998.70 V1006.90" stroke="#111" stroke-width="1.6" fill="none"/>
<text x="596.99" y="1031.40" font-size="20.40" text-anchor="middle" font-weight="normal" >380</text>
<path d="M628.54,998.70 V1003.70" stroke="#111" stroke-width="1.6" fill="none"/>
<path d="M660.40,998.70 V1006.90" stroke="#111" stroke-width="1.6" fill="none"/>
<text x="660.70" y="1031.40" font-size="20.40" text-anchor="middle" font-weight="normal" >400</text>
<text x="370.50" y="1061.70" font-size="20.00" text-anchor="middle" font-weight="normal" >Wavelength (nm)</text>
<text x="0.00" y="0.00" font-size="20.00" text-anchor="middle" font-weight="normal" transform="translate(18.0,791.70) rotate(-90)">CD (mdeg)</text>
<path d="M87.00,1107.60 V1528.40 H661.20" stroke="#111" stroke-width="2" fill="none"/>
<path d="M87.00,1108.40 H77.70" stroke="#111" stroke-width="1.6" fill="none"/>
<text x="69.10" y="1114.10" font-size="20.40" text-anchor="end" font-weight="normal" >100</text>
<path d="M87.00,1129.40 H82.00" stroke="#111" stroke-width="1.6" fill="none"/>
<path d="M87.00,1150.40 H77.70" stroke="#111" stroke-width="1.6" fill="none"/>
<text x="69.10" y="1156.10" font-size="20.40" text-anchor="end" font-weight="normal" >80</text>
<path d="M87.00,1171.40 H82.00" stroke="#111" stroke-width="1.6" fill="none"/>
<path d="M87.00,1192.40 H77.70" stroke="#111" stroke-width="1.6" fill="none"/>
<text x="69.10" y="1198.10" font-size="20.40" text-anchor="end" font-weight="normal" >60</text>
<path d="M87.00,1213.40 H82.00" stroke="#111" stroke-width="1.6" fill="none"/>
<path d="M87.00,1234.40 H77.70" stroke="#111" stroke-width="1.6" fill="none"/>
<text x="69.10" y="1240.10" font-size="20.40" text-anchor="end" font-weight="normal" >40</text>
<path d="M87.00,1255.40 H82.00" stroke="#111" stroke-width="1.6" fill="none"/>
<path d="M87.00,1276.40 H77.70" stroke="#111" stroke-width="1.6" fill="none"/>
<text x="69.10" y="1282.10" font-size="20.40" text-anchor="end" font-weight="normal" >20</text>
<path d="M87.00,1297.40 H82.00" stroke="#111" stroke-width="1.6" fill="none"/>
<path d="M87.00,1318.40 H77.70" stroke="#111" stroke-width="1.6" fill="none"/>
<text x="69.10" y="1324.10" font-size="20.40" text-anchor="end" font-weight="normal" >0</text>
<path d="M87.00,1339.40 H82.00" stroke="#111" stroke-width="1.6" fill="none"/>
<path d="M87.00,1360.40 H77.70" stroke="#111" stroke-width="1.6" fill="none"/>
<text x="69.10" y="1366.10" font-size="20.40" text-anchor="end" font-weight="normal" >−20</text>
<path d="M87.00,1381.40 H82.00" stroke="#111" stroke-width="1.6" fill="none"/>
<path d="M87.00,1402.40 H77.70" stroke="#111" stroke-width="1.6" fill="none"/>
<text x="69.10" y="1408.10" font-size="20.40" text-anchor="end" font-weight="normal" >−40</text>
<path d="M87.00,1423.40 H82.00" stroke="#111" stroke-width="1.6" fill="none"/>
<path d="M87.00,1444.40 H77.70" stroke="#111" stroke-width="1.6" fill="none"/>
<text x="69.10" y="1450.10" font-size="20.40" text-anchor="end" font-weight="normal" >−60</text>
<path d="M87.00,1465.40 H82.00" stroke="#111" stroke-width="1.6" fill="none"/>
<path d="M87.00,1486.40 H77.70" stroke="#111" stroke-width="1.6" fill="none"/>
<text x="69.10" y="1492.10" font-size="20.40" text-anchor="end" font-weight="normal" >−80</text>
<path d="M87.00,1507.40 H82.00" stroke="#111" stroke-width="1.6" fill="none"/>
<path d="M87.00,1528.40 H77.70" stroke="#111" stroke-width="1.6" fill="none"/>
<text x="69.10" y="1534.10" font-size="20.40" text-anchor="end" font-weight="normal" >100</text>
<path d="M87.00,1528.40 V1536.60" stroke="#111" stroke-width="1.6" fill="none"/>
<text x="87.30" y="1561.10" font-size="20.40" text-anchor="middle" font-weight="normal" >220</text>
<path d="M118.86,1528.40 V1533.40" stroke="#111" stroke-width="1.6" fill="none"/>
<path d="M150.71,1528.40 V1536.60" stroke="#111" stroke-width="1.6" fill="none"/>
<text x="151.01" y="1561.10" font-size="20.40" text-anchor="middle" font-weight="normal" >240</text>
<path d="M182.57,1528.40 V1533.40" stroke="#111" stroke-width="1.6" fill="none"/>
<path d="M214.42,1528.40 V1536.60" stroke="#111" stroke-width="1.6" fill="none"/>
<text x="214.72" y="1561.10" font-size="20.40" text-anchor="middle" font-weight="normal" >260</text>
<path d="M246.28,1528.40 V1533.40" stroke="#111" stroke-width="1.6" fill="none"/>
<path d="M278.13,1528.40 V1536.60" stroke="#111" stroke-width="1.6" fill="none"/>
<text x="278.43" y="1561.10" font-size="20.40" text-anchor="middle" font-weight="normal" >280</text>
<path d="M309.99,1528.40 V1533.40" stroke="#111" stroke-width="1.6" fill="none"/>
<path d="M341.84,1528.40 V1536.60" stroke="#111" stroke-width="1.6" fill="none"/>
<text x="342.14" y="1561.10" font-size="20.40" text-anchor="middle" font-weight="normal" >300</text>
<path d="M373.70,1528.40 V1533.40" stroke="#111" stroke-width="1.6" fill="none"/>
<path d="M405.56,1528.40 V1536.60" stroke="#111" stroke-width="1.6" fill="none"/>
<text x="405.86" y="1561.10" font-size="20.40" text-anchor="middle" font-weight="normal" >320</text>
<path d="M437.41,1528.40 V1533.40" stroke="#111" stroke-width="1.6" fill="none"/>
<path d="M469.27,1528.40 V1536.60" stroke="#111" stroke-width="1.6" fill="none"/>
<text x="469.57" y="1561.10" font-size="20.40" text-anchor="middle" font-weight="normal" >340</text>
<path d="M501.12,1528.40 V1533.40" stroke="#111" stroke-width="1.6" fill="none"/>
<path d="M532.98,1528.40 V1536.60" stroke="#111" stroke-width="1.6" fill="none"/>
<text x="533.28" y="1561.10" font-size="20.40" text-anchor="middle" font-weight="normal" >360</text>
<path d="M564.83,1528.40 V1533.40" stroke="#111" stroke-width="1.6" fill="none"/>
<path d="M596.69,1528.40 V1536.60" stroke="#111" stroke-width="1.6" fill="none"/>
<text x="596.99" y="1561.10" font-size="20.40" text-anchor="middle" font-weight="normal" >380</text>
<path d="M628.54,1528.40 V1533.40" stroke="#111" stroke-width="1.6" fill="none"/>
<path d="M660.40,1528.40 V1536.60" stroke="#111" stroke-width="1.6" fill="none"/>
<text x="660.70" y="1561.10" font-size="20.40" text-anchor="middle" font-weight="normal" >400</text>
<text x="372.50" y="1591.40" font-size="20.00" text-anchor="middle" font-weight="normal" >Wavelength (nm)</text>
<text x="0.00" y="0.00" font-size="20.00" text-anchor="middle" font-weight="normal" transform="translate(18.0,1325.40) rotate(-90)">CD (mdeg)</text>
<path d="M90.00,983.47 L93.95,981.05 M96.61,976.00 L99.24,968.45 M103.06,949.14 L104.22,941.22 M105.10,935.29 L106.26,927.37 M109.43,903.51 L110.46,895.58 M111.24,889.63 L112.27,881.70 M115.79,856.88 L117.02,848.97 M117.95,843.04 L119.11,835.56 M122.13,815.32 L123.88,807.52 M125.19,801.66 L125.51,800.22 M128.48,786.88 L130.58,779.16 M134.76,765.57 L138.36,758.52 M141.06,754.34 L144.79,749.41 M147.36,746.56 L151.23,743.21 M153.70,743.37 L157.63,746.03 M160.08,747.50 L163.98,750.48 M166.53,752.85 L170.27,757.65 M172.87,761.51 L176.68,765.40 M179.18,767.41 L183.10,770.12 M185.51,771.51 L189.51,773.48 M191.87,774.55 L195.89,776.22 M198.24,776.90 L202.26,778.57 M204.61,779.67 L208.62,781.49 M210.97,782.51 L215.00,784.10 M217.34,784.98 L221.37,786.37 M223.70,787.10 L227.75,788.16 M230.06,788.68 L234.12,789.59 M236.43,790.15 L240.49,791.15 M242.80,791.71 L246.86,792.64 M249.16,793.11 L253.23,793.86 M255.54,794.28 L259.60,795.17 M261.91,795.75 L265.96,796.84 M268.28,797.49 L272.33,798.64 M274.65,799.33 L278.70,800.56 M281.02,801.27 L285.07,802.43 M287.39,803.04 L291.44,804.26 M293.78,805.14 L297.78,806.99 M300.16,808.23 L304.14,810.32 M306.52,811.51 L310.52,813.46 M312.90,814.64 L316.88,816.73 M319.27,818.06 L323.24,820.32 M325.66,821.79 L329.59,824.46 M332.05,826.27 L335.94,829.36 M338.45,831.54 L342.28,835.25 M344.84,837.99 L348.62,842.25 M351.22,845.24 L354.99,849.66 M357.59,852.82 L361.35,857.41 M363.96,860.57 L367.72,865.11 M370.33,868.27 L374.09,872.80 M376.70,875.94 L380.46,880.44 M383.06,883.55 L386.83,888.05 M389.45,891.34 L393.18,896.18 M395.76,899.33 L399.61,902.90 M402.03,904.41 L406.08,905.49 M408.40,905.41 L412.44,904.19 M414.87,902.64 L418.71,899.12 M421.29,896.12 L425.02,891.20 M427.70,887.31 L431.36,881.46 M434.09,876.69 L437.70,869.95 M440.50,864.34 L443.51,856.92 M446.86,847.84 L450.07,840.51 M453.22,833.70 L456.53,826.42 M459.59,819.65 L462.99,812.41 M465.94,806.32 L469.54,799.46 M472.27,794.96 L475.95,789.29 M478.65,784.90 L482.31,778.98 M485.00,774.92 L488.70,769.68 M491.34,766.17 L495.09,761.59 M497.71,758.54 L501.46,753.91 M504.04,750.74 L507.86,746.92 M510.36,744.89 L514.29,742.29 M516.69,741.01 L520.69,739.21 M523.04,738.33 L527.08,737.12 M529.39,736.68 L533.47,736.52 M535.76,736.69 L539.84,737.26 M542.15,737.65 L546.19,738.91 M548.55,740.06 L552.53,742.19 M554.93,743.60 L558.88,746.13 M561.33,747.91 L565.21,751.11 M567.72,753.37 L571.56,756.98 M574.11,759.38 L577.92,763.28 M580.48,766.05 L584.29,769.97 M586.79,772.20 L590.71,775.04 M593.13,776.52 L597.11,778.55 M599.47,779.55 L603.50,780.99 M605.83,781.65 L609.89,782.57 M612.19,782.99 L616.26,783.63 M618.55,783.93 L622.63,784.36 M624.92,784.55 L629.00,784.83 M631.29,784.95 L635.37,785.14 M637.66,785.22 L641.74,785.30 M644.03,785.32 L648.11,785.31 M650.40,785.30 L654.48,785.26 M656.77,785.23 L660.85,785.20" stroke="#d43a2f" stroke-width="1.70" fill="none" stroke-linecap="butt"/>
<path d="M90.00,623.99 L93.95,621.52 M96.57,624.96 L99.79,632.29 M103.04,646.28 L104.51,654.15 M105.61,660.05 L106.39,664.25 M109.43,681.21 L110.55,689.13 M111.39,695.08 L112.51,703.00 M115.79,725.74 L117.01,733.65 M117.92,739.58 L119.11,747.30 M122.15,765.70 L123.52,773.58 M124.54,779.50 L125.49,784.95 M128.47,799.53 L130.78,807.18 M134.72,817.62 L138.39,823.35 M141.09,827.06 L144.76,832.84 M147.30,836.24 L151.30,838.12 M153.64,838.24 L157.69,836.99 M160.07,835.73 L164.00,833.03 M166.52,830.64 L170.29,826.31 M172.88,823.45 L176.67,819.31 M179.24,816.59 L183.04,812.62 M185.58,810.08 L189.44,806.59 M191.93,804.52 L195.83,801.55 M198.27,799.85 L202.22,797.39 M204.63,796.04 L208.61,793.97 M210.98,792.86 L214.99,791.15 M217.34,790.24 L221.37,788.84 M223.70,788.11 L227.75,786.92 M230.06,786.32 L234.12,785.30 M236.43,784.71 L240.49,783.67 M242.80,783.10 L246.86,782.08 M249.17,781.49 L253.23,780.53 M255.53,780.11 L259.61,779.60 M261.90,779.22 L265.97,778.39 M268.28,777.88 L272.33,776.83 M274.66,776.13 L278.69,774.79 M281.03,773.97 L285.06,772.48 M287.40,771.58 L291.42,769.96 M293.78,768.97 L297.79,767.24 M300.17,766.17 L304.13,763.87 M306.53,762.53 L310.51,760.44 M312.92,759.09 L316.85,756.42 M319.32,754.40 L323.19,751.10 M325.68,749.01 L329.57,746.02 M332.07,744.12 L335.92,740.67 M338.45,738.13 L342.28,734.35 M344.82,732.02 L348.65,728.31 M351.22,725.46 L354.98,720.96 M357.60,717.76 L361.34,712.97 M363.94,709.58 L367.74,705.47 M370.23,703.62 L374.18,701.14 M376.59,699.90 L380.56,697.74 M382.96,696.26 L386.93,693.98 M389.31,692.65 L393.32,690.92 M395.64,690.35 L399.72,689.82 M402.01,689.55 L406.09,689.27 M408.45,689.39 L412.39,691.99 M414.84,694.01 L418.74,696.99 M421.29,699.42 L425.03,704.20 M427.68,708.06 L431.37,713.53 M434.08,717.95 L437.71,724.36 M440.46,729.35 L444.08,735.90 M446.82,740.76 L450.45,747.04 M453.18,751.67 L456.83,757.76 M459.54,762.20 L463.20,768.07 M465.90,772.28 L469.58,777.88 M472.26,781.87 L475.96,787.28 M478.63,791.15 L482.33,796.41 M484.98,800.05 L488.72,804.82 M491.34,808.05 L495.10,812.55 M497.66,815.38 L501.51,818.97 M504.00,820.95 L507.90,823.94 M510.37,825.88 L514.28,828.78 M516.70,830.33 L520.69,832.32 M523.03,833.23 L527.09,834.32 M529.39,834.73 L533.47,835.23 M535.76,835.36 L539.84,835.16 M542.15,834.73 L546.18,833.30 M548.55,832.05 L552.52,829.76 M554.94,828.27 L558.87,825.66 M561.33,823.91 L565.22,820.85 M567.74,818.60 L571.54,814.56 M574.12,811.60 L577.90,807.37 M580.44,804.82 L584.32,801.70 M586.77,800.04 L590.73,797.72 M593.12,796.52 L597.12,794.73 M599.47,793.79 L603.51,792.46 M605.82,791.87 L609.89,791.05 M612.19,790.68 L616.26,790.15 M618.55,789.94 L622.64,789.66 M624.92,789.56 L629.01,789.42 M631.29,789.36 L635.37,789.28 M637.66,789.27 L641.74,789.28 M644.03,789.30 L648.11,789.36 M650.40,789.40 L654.48,789.48 M656.77,789.53 L660.85,789.60" stroke="#0a0a0a" stroke-width="1.90" fill="none" stroke-linecap="butt"/>
<path d="M87.30,631.00 C87.67,630.00 88.50,626.55 89.50,625.00 C90.50,623.45 92.05,621.57 93.30,621.70 C94.55,621.83 95.82,623.73 97.00,625.80 C98.18,627.87 99.40,630.72 100.40,634.10 C101.40,637.48 102.18,641.97 103.00,646.10 C103.82,650.23 104.53,654.88 105.30,658.90 C106.07,662.92 106.85,666.07 107.60,670.20 C108.35,674.33 109.05,678.70 109.80,683.70 C110.55,688.70 111.35,694.93 112.10,700.20 C112.85,705.47 113.62,710.58 114.30,715.30 C114.98,720.02 115.55,724.13 116.20,728.50 C116.85,732.87 117.53,737.25 118.20,741.50 C118.87,745.75 119.43,749.33 120.20,754.00 C120.97,758.67 121.92,764.33 122.80,769.50 C123.68,774.67 124.73,780.67 125.50,785.00 C126.27,789.33 126.60,792.08 127.40,795.50 C128.20,798.92 129.33,802.20 130.30,805.50 C131.27,808.80 132.10,812.10 133.20,815.30 C134.30,818.50 135.68,821.67 136.90,824.70 C138.12,827.73 139.28,830.93 140.50,833.50 C141.72,836.07 142.85,838.40 144.20,840.10 C145.55,841.80 147.02,842.97 148.60,843.70 C150.18,844.43 152.00,844.87 153.70,844.50 C155.40,844.13 156.92,843.22 158.80,841.50 C160.68,839.78 163.38,835.92 165.00,834.20 C166.62,832.48 166.33,833.45 168.50,831.20 C170.67,828.95 174.85,824.03 178.00,820.70 C181.15,817.37 184.25,814.20 187.40,811.20 C190.55,808.20 193.73,805.22 196.90,802.70 C200.07,800.18 203.23,798.00 206.40,796.10 C209.57,794.20 212.73,792.63 215.90,791.30 C219.07,789.97 222.23,789.05 225.40,788.10 C228.57,787.15 231.73,786.42 234.90,785.60 C238.07,784.78 241.23,783.98 244.40,783.20 C247.57,782.42 250.97,781.47 253.90,780.90 C256.83,780.33 258.80,780.42 262.00,779.80 C265.20,779.18 269.05,778.40 273.10,777.20 C277.15,776.00 281.92,774.25 286.30,772.60 C290.68,770.95 296.12,768.73 299.40,767.30 C302.68,765.87 303.80,765.20 306.00,764.00 C308.20,762.80 310.42,761.52 312.60,760.10 C314.78,758.68 316.92,757.03 319.10,755.50 C321.28,753.97 323.50,752.55 325.70,750.90 C327.90,749.25 330.12,747.47 332.30,745.60 C334.48,743.73 336.62,741.88 338.80,739.70 C340.98,737.52 343.02,735.37 345.40,732.50 C347.78,729.63 350.72,725.55 353.10,722.50 C355.48,719.45 357.50,716.58 359.70,714.20 C361.90,711.82 364.12,709.85 366.30,708.20 C368.48,706.55 370.62,705.50 372.80,704.30 C374.98,703.10 377.20,702.10 379.40,701.00 C381.60,699.90 383.80,698.90 386.00,697.70 C388.20,696.50 390.42,694.78 392.60,693.80 C394.78,692.82 396.92,692.23 399.10,691.80 C401.28,691.37 403.95,691.20 405.70,691.20 C407.45,691.20 408.28,691.25 409.60,691.80 C410.92,692.35 412.07,693.40 413.60,694.50 C415.13,695.60 417.05,696.65 418.80,698.40 C420.55,700.15 421.95,701.62 424.10,705.00 C426.25,708.38 428.48,713.28 431.70,718.70 C434.92,724.12 439.52,730.87 443.40,737.50 C447.28,744.13 451.12,751.78 455.00,758.50 C458.88,765.22 463.38,772.30 466.70,777.80 C470.02,783.30 472.05,787.13 474.90,791.50 C477.75,795.87 481.10,800.38 483.80,804.00 C486.50,807.62 488.67,810.45 491.10,813.20 C493.53,815.95 495.97,818.30 498.40,820.50 C500.83,822.70 503.27,824.45 505.70,826.40 C508.13,828.35 510.32,830.38 513.00,832.20 C515.68,834.02 518.88,836.20 521.80,837.30 C524.72,838.40 527.47,838.68 530.50,838.80 C533.53,838.92 536.68,838.97 540.00,838.00 C543.32,837.03 546.03,835.80 550.40,833.00 C554.77,830.20 560.93,826.02 566.20,821.20 C571.47,816.38 576.75,808.48 582.00,804.10 C587.25,799.72 592.45,797.10 597.70,794.90 C602.95,792.70 607.37,791.78 613.50,790.90 C619.63,790.02 626.62,789.68 634.50,789.60 C642.38,789.52 656.42,790.27 660.80,790.40" stroke="#0a0a0a" stroke-width="1.90" fill="none" stroke-linejoin="round"/>
<path d="M89.99,1134.24 L93.97,1132.15 M96.62,1136.67 L98.99,1144.31 M103.05,1163.53 L104.26,1171.44 M105.16,1177.37 L106.36,1185.28 M109.43,1206.07 L110.53,1214.00 M111.35,1219.94 L112.44,1227.87 M115.79,1251.75 L116.95,1259.67 M117.82,1265.60 L118.98,1273.52 M122.15,1294.29 L123.48,1302.18 M124.48,1308.10 L125.49,1314.11 M128.50,1332.54 L130.17,1340.37 M131.41,1346.24 L131.88,1348.42 M134.81,1357.37 L137.65,1364.85 M141.05,1372.75 L144.81,1377.20 M147.28,1378.91 L151.31,1380.28 M153.69,1380.04 L157.64,1377.62 M160.18,1375.02 L163.89,1369.81 M166.57,1365.46 L170.24,1359.75 M172.93,1355.41 L176.61,1349.81 M179.24,1346.47 L183.04,1342.39 M185.59,1339.93 L189.43,1336.40 M191.94,1334.14 L195.81,1330.83 M198.29,1328.87 L202.21,1326.12 M204.62,1324.68 L208.61,1322.66 M210.98,1321.62 L215.00,1320.02 M217.33,1319.21 L221.38,1318.05 M223.69,1317.46 L227.75,1316.53 M230.06,1316.10 L234.13,1315.38 M236.43,1314.97 L240.49,1314.09 M242.81,1313.45 L246.85,1312.16 M249.17,1311.40 L253.23,1310.32 M255.53,1309.82 L259.60,1309.03 M261.90,1308.60 L265.97,1307.80 M268.27,1307.39 L272.34,1306.61 M274.65,1306.09 L278.70,1305.06 M281.02,1304.43 L285.06,1303.13 M287.41,1302.23 L291.41,1300.40 M293.79,1299.19 L297.77,1297.05 M300.17,1295.71 L304.13,1293.37 M306.55,1291.88 L310.49,1289.35 M312.92,1287.80 L316.86,1285.24 M319.32,1283.50 L323.20,1280.30 M325.72,1277.92 L329.53,1274.01 M332.10,1271.23 L335.89,1267.00 M338.49,1263.94 L342.24,1259.36 M344.87,1256.11 L348.60,1251.24 M351.24,1247.66 L354.97,1242.78 M357.57,1239.71 L361.37,1235.65 M363.92,1233.14 L367.76,1229.56 M370.27,1227.32 L374.14,1224.05 M376.62,1222.11 L380.54,1219.36 M382.96,1217.88 L386.93,1215.72 M389.30,1214.63 L393.33,1213.20 M395.64,1212.66 L399.73,1212.53 M402.02,1212.81 L406.09,1213.55 M408.42,1214.21 L412.42,1215.99 M414.85,1217.60 L418.73,1220.79 M421.27,1223.25 L425.05,1227.45 M427.69,1230.93 L431.36,1236.66 M434.09,1241.37 L437.70,1248.19 M440.48,1253.88 L443.90,1261.11 M446.86,1267.84 L450.04,1275.18 M453.21,1282.11 L456.78,1289.27 M459.58,1294.71 L463.17,1301.85 M465.95,1307.56 L469.50,1314.73 M472.30,1320.08 L475.92,1326.73 M478.64,1331.41 L482.31,1337.13 M484.99,1341.02 L488.70,1346.13 M491.34,1349.55 L495.09,1354.19 M497.69,1357.25 L501.49,1361.30 M504.00,1363.60 L507.91,1366.52 M510.33,1367.98 L514.32,1369.92 M516.68,1370.89 L520.71,1372.38 M523.03,1373.07 L527.10,1373.81 M529.39,1373.93 L533.47,1373.63 M535.77,1373.26 L539.83,1372.36 M542.15,1371.71 L546.19,1370.36 M548.54,1369.43 L552.53,1367.51 M554.95,1366.05 L558.86,1363.10 M561.39,1360.71 L565.16,1356.35 M567.77,1353.06 L571.52,1348.48 M574.11,1345.66 L577.91,1341.62 M580.46,1339.01 L584.30,1335.39 M586.80,1333.28 L590.70,1330.31 M593.14,1328.64 L597.10,1326.28 M599.48,1325.04 L603.49,1323.31 M605.83,1322.51 L609.88,1321.43 M612.19,1320.95 L616.26,1320.28 M618.55,1320.01 L622.64,1319.66 M624.92,1319.53 L629.00,1319.32 M631.29,1319.23 L635.37,1319.11 M637.66,1319.06 L641.74,1319.00 M644.03,1318.97 L648.11,1318.92 M650.40,1318.90 L654.48,1318.86" stroke="#d43a2f" stroke-width="1.70" fill="none" stroke-linecap="butt"/>
<path d="M89.94,1495.07 L94.01,1494.33 M96.62,1486.74 L98.93,1479.08 M103.03,1463.29 L104.67,1455.46 M105.90,1449.58 L106.40,1447.18 M109.41,1424.69 L110.79,1416.81 M111.83,1410.90 L112.75,1405.63 M115.80,1383.76 L116.83,1375.82 M117.59,1369.87 L118.61,1361.94 M122.14,1340.24 L123.68,1332.38 M124.83,1326.50 L125.50,1323.07 M128.48,1309.44 L130.49,1301.70 M134.80,1287.29 L137.70,1279.84 M141.11,1272.06 L144.74,1265.73 M147.37,1262.10 L151.22,1258.57 M153.66,1258.05 L157.68,1259.64 M160.13,1261.59 L163.94,1265.52 M166.57,1269.25 L170.23,1275.11 M172.97,1279.70 L176.57,1286.62 M179.30,1291.70 L182.99,1297.14 M185.55,1299.69 L189.47,1302.51 M191.89,1303.85 L195.87,1305.92 M198.25,1307.25 L202.24,1309.23 M204.61,1310.29 L208.62,1311.98 M210.98,1312.95 L214.99,1314.60 M217.34,1315.52 L221.37,1317.02 M223.70,1317.82 L227.74,1319.11 M230.06,1319.81 L234.12,1320.87 M236.43,1321.41 L240.49,1322.31 M242.80,1322.78 L246.86,1323.55 M249.16,1323.96 L253.23,1324.69 M255.53,1325.10 L259.60,1325.85 M261.90,1326.28 L265.97,1327.08 M268.27,1327.57 L272.34,1328.50 M274.65,1329.10 L278.70,1330.30 M281.03,1331.07 L285.06,1332.58 M287.41,1333.54 L291.42,1335.31 M293.78,1336.39 L297.78,1338.22 M300.15,1339.29 L304.15,1341.13 M306.52,1342.25 L310.52,1344.18 M312.90,1345.37 L316.88,1347.43 M319.28,1348.73 L323.24,1351.08 M325.69,1352.75 L329.56,1355.99 M332.07,1358.38 L335.92,1361.91 M338.45,1364.32 L342.27,1368.17 M344.84,1370.91 L348.62,1375.22 M351.23,1378.37 L354.98,1383.02 M357.61,1386.31 L361.33,1391.23 M363.97,1394.77 L367.71,1399.50 M370.30,1402.39 L374.12,1406.17 M376.67,1408.57 L380.49,1412.39 M383.07,1415.35 L386.82,1419.89 M389.39,1422.78 L393.24,1426.22 M395.72,1428.18 L399.65,1430.81 M402.01,1431.95 L406.09,1432.22 M408.49,1431.05 L412.36,1427.76 M414.90,1425.14 L418.68,1420.76 M421.33,1416.99 L424.99,1411.01 M427.74,1405.63 L431.14,1398.39 M434.11,1392.17 L437.63,1384.99 M440.47,1379.22 L444.01,1372.04 M446.84,1366.23 L450.39,1359.06 M453.19,1353.72 L456.82,1347.32 M459.56,1342.67 L463.19,1336.37 M465.93,1331.58 L469.56,1325.21 M472.30,1320.37 L475.92,1313.84 M478.65,1309.01 L482.31,1303.03 M485.00,1298.86 L488.70,1293.57 M491.35,1290.06 L495.09,1285.31 M497.69,1282.21 L501.48,1278.09 M504.02,1275.69 L507.89,1272.46 M510.36,1270.65 L514.29,1268.03 M516.70,1266.62 L520.69,1264.58 M523.04,1263.54 L527.08,1262.13 M529.39,1261.61 L533.47,1261.92 M535.77,1262.38 L539.83,1263.44 M542.18,1264.29 L546.16,1266.36 M548.61,1268.19 L552.46,1271.72 M555.02,1274.43 L558.80,1278.70 M561.42,1281.88 L565.13,1287.02 M567.78,1290.81 L571.51,1295.69 M574.11,1298.55 L577.92,1302.45 M580.41,1304.60 L584.35,1307.20 M586.76,1308.45 L590.74,1310.51 M593.10,1311.58 L597.14,1312.97 M599.45,1313.56 L603.52,1314.35 M605.82,1314.68 L609.90,1315.14 M612.18,1315.32 L616.27,1315.57 M618.55,1315.68 L622.64,1315.85 M624.92,1315.93 L629.01,1316.05 M631.29,1316.10 L635.37,1316.19 M637.66,1316.23 L641.74,1316.30 M644.03,1316.34 L648.11,1316.39 M650.40,1316.42 L654.48,1316.48" stroke="#0a0a0a" stroke-width="1.90" fill="none" stroke-linecap="butt"/>
<path d="M86.90,1488.20 C87.37,1489.28 88.60,1492.35 89.70,1494.70 C90.80,1497.05 92.32,1501.82 93.50,1502.30 C94.68,1502.78 95.72,1500.43 96.80,1497.60 C97.88,1494.77 98.98,1490.02 100.00,1485.30 C101.02,1480.58 101.95,1474.62 102.90,1469.30 C103.85,1463.98 104.77,1458.88 105.70,1453.40 C106.63,1447.92 107.57,1442.37 108.50,1436.40 C109.43,1430.43 110.35,1423.87 111.30,1417.60 C112.25,1411.33 113.33,1405.40 114.20,1398.80 C115.07,1392.20 115.53,1385.78 116.50,1378.00 C117.47,1370.22 118.83,1359.53 120.00,1352.10 C121.17,1344.67 122.33,1339.23 123.50,1333.40 C124.67,1327.57 125.63,1322.93 127.00,1317.10 C128.37,1311.27 129.93,1304.25 131.70,1298.40 C133.47,1292.55 135.45,1287.07 137.60,1282.00 C139.75,1276.93 141.88,1271.57 144.60,1268.00 C147.32,1264.43 150.98,1261.18 153.90,1260.60 C156.82,1260.02 159.18,1261.90 162.10,1264.50 C165.02,1267.10 167.90,1271.72 171.40,1276.20 C174.90,1280.68 178.82,1286.92 183.10,1291.40 C187.38,1295.88 192.43,1299.80 197.10,1303.10 C201.77,1306.40 206.42,1308.67 211.10,1311.20 C215.78,1313.73 220.38,1316.47 225.20,1318.30 C230.02,1320.13 235.20,1320.97 240.00,1322.20 C244.80,1323.43 249.33,1324.53 254.00,1325.70 C258.67,1326.87 263.33,1327.83 268.00,1329.20 C272.67,1330.57 277.32,1331.95 282.00,1333.90 C286.68,1335.85 291.42,1338.37 296.10,1340.90 C300.78,1343.43 306.12,1346.62 310.10,1349.10 C314.08,1351.58 316.88,1353.38 320.00,1355.80 C323.12,1358.22 325.88,1360.83 328.80,1363.60 C331.72,1366.37 334.58,1369.47 337.50,1372.40 C340.42,1375.33 344.25,1379.15 346.30,1381.20 C348.35,1383.25 348.35,1383.10 349.80,1384.70 C351.25,1386.30 353.40,1388.90 355.00,1390.80 C356.60,1392.70 357.93,1394.35 359.40,1396.10 C360.87,1397.85 362.20,1399.70 363.80,1401.30 C365.40,1402.90 367.25,1404.38 369.00,1405.70 C370.75,1407.02 372.47,1408.03 374.30,1409.20 C376.13,1410.37 377.10,1410.42 380.00,1412.70 C382.90,1414.98 387.62,1420.42 391.70,1422.90 C395.78,1425.38 400.62,1427.78 404.50,1427.60 C408.38,1427.42 411.68,1424.52 415.00,1421.80 C418.32,1419.08 421.28,1416.17 424.40,1411.30 C427.52,1406.43 430.58,1398.83 433.70,1392.60 C436.82,1386.37 439.98,1380.13 443.10,1373.90 C446.22,1367.67 449.28,1361.05 452.40,1355.20 C455.52,1349.35 458.68,1344.25 461.80,1338.80 C464.92,1333.35 468.00,1327.95 471.10,1322.50 C474.20,1317.05 477.28,1311.17 480.40,1306.10 C483.52,1301.03 486.28,1296.77 489.80,1292.10 C493.32,1287.43 497.62,1281.98 501.50,1278.10 C505.38,1274.22 509.22,1271.33 513.10,1268.80 C516.98,1266.27 521.47,1264.05 524.80,1262.90 C528.13,1261.75 529.52,1261.42 533.10,1261.90 C536.68,1262.38 541.92,1263.62 546.30,1265.80 C550.68,1267.98 555.02,1270.90 559.40,1275.00 C563.78,1279.10 568.22,1285.65 572.60,1290.40 C576.98,1295.15 581.33,1300.03 585.70,1303.50 C590.07,1306.97 594.42,1309.38 598.80,1311.20 C603.18,1313.02 606.88,1313.68 612.00,1314.40 C617.12,1315.12 621.48,1315.05 629.50,1315.50 C637.52,1315.95 655.00,1316.83 660.10,1317.10" stroke="#0a0a0a" stroke-width="1.90" fill="none" stroke-linejoin="round"/>
<path d="M464.90,590.80 H503.50" stroke="#0a0a0a" stroke-width="2" stroke-dasharray="7.8 7.4"/>
<path d="M464.90,613.80 H503.50" stroke="#d43a2f" stroke-width="2" stroke-dasharray="7.8 7.4"/>
<path d="M464.90,660.50 H508.60" stroke="#0a0a0a" stroke-width="2.1"/>
<text x="517.50" y="599.70" font-size="17.30" text-anchor="start" font-weight="normal" >Non-polymerized</text>
<text x="517.50" y="622.10" font-size="17.30" text-anchor="start" font-weight="normal" >Non-polymerized</text>
<text x="517.50" y="642.80" font-size="17.30" text-anchor="start" font-weight="normal" >(<tspan font-style="italic">r</tspan>-CPL 60 min)</text>
<text x="517.50" y="669.40" font-size="17.30" text-anchor="start" font-weight="normal" >Polymerized</text>
<text x="517.50" y="690.00" font-size="17.30" text-anchor="start" font-weight="normal" >(<tspan font-style="italic">r</tspan>-CPL 60 min)</text>
<path d="M460.80,1124.90 H500.00" stroke="#0a0a0a" stroke-width="2" stroke-dasharray="7.8 7.4"/>
<path d="M460.80,1148.30 H500.00" stroke="#d43a2f" stroke-width="2" stroke-dasharray="7.8 7.4"/>
<path d="M460.80,1195.20 H504.90" stroke="#0a0a0a" stroke-width="2.1"/>
<text x="514.50" y="1131.40" font-size="17.30" text-anchor="start" font-weight="normal" >Non-polymerized</text>
<text x="514.50" y="1153.70" font-size="17.30" text-anchor="start" font-weight="normal" >Non-polymerized</text>
<text x="514.50" y="1174.50" font-size="17.30" text-anchor="start" font-weight="normal" >(<tspan font-style="italic">l</tspan>-CPL 60 min)</text>
<text x="514.50" y="1200.80" font-size="17.30" text-anchor="start" font-weight="normal" >Polymerized</text>
<text x="514.50" y="1221.40" font-size="17.30" text-anchor="start" font-weight="normal" >(<tspan font-style="italic">l</tspan>-CPL 60 min)</text>
</g></svg></body></html>
